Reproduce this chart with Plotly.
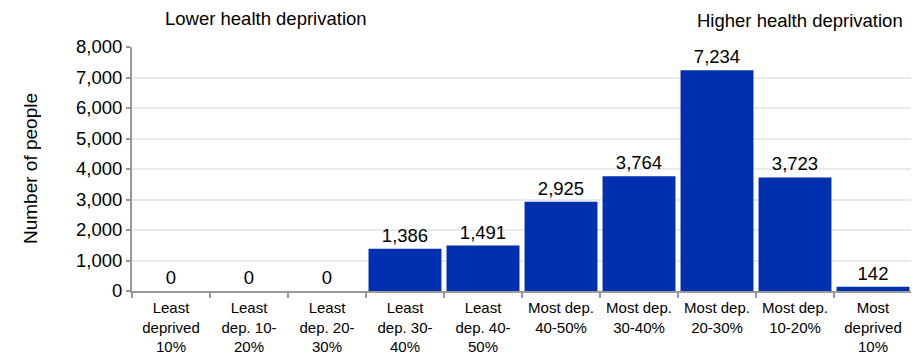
import plotly.graph_objects as go

categories = ["Least<br>deprived<br>10%", "Least<br>dep. 10-<br>20%", "Least<br>dep. 20-<br>30%",
              "Least<br>dep. 30-<br>40%", "Least<br>dep. 40-<br>50%", "Most dep.<br>40-50%",
              "Most dep.<br>30-40%", "Most dep.<br>20-30%", "Most dep.<br>10-20%", "Most<br>deprived<br>10%"]
values = [0, 0, 0, 1386, 1491, 2925, 3764, 7234, 3723, 142]
labels = [f"{v:,}" for v in values]
tick_vals = [0, 1000, 2000, 3000, 4000, 5000, 6000, 7000, 8000]
tick_text = [f"{v:,}" for v in tick_vals]

FONT = "Liberation Sans, Arial, sans-serif"

fig = go.Figure(go.Bar(
    x=categories, y=values, text=labels, textposition="outside",
    textfont=dict(size=18.5, color="#000000", family=FONT),
    marker=dict(color="#0030B0", line=dict(width=0)),
    cliponaxis=False,
))

fig.update_layout(
    width=911, height=347,
    margin=dict(l=124, r=7, t=39, b=64, autoexpand=False),
    paper_bgcolor="white", plot_bgcolor="white",
    bargap=0.065,
    showlegend=False,
    font=dict(family=FONT, color="#000000"),
    xaxis=dict(
        automargin=False, tickangle=0, ticklabelstandoff=2,
        showline=True, linecolor="#999999", linewidth=2,
        ticks="outside", tickson="boundaries", ticklen=5, tickcolor="#999999", tickwidth=2,
        tickfont=dict(size=15, family=FONT, color="#000000"),
        showgrid=False,
    ),
    yaxis=dict(
        automargin=False,
        range=[0, 8000], tickvals=tick_vals, ticktext=tick_text,
        showline=True, linecolor="#999999", linewidth=2,
        ticks="outside", ticklen=4, tickcolor="#999999", tickwidth=2,
        tickfont=dict(size=18.5, family=FONT, color="#000000"),
        showgrid=True, gridcolor="#EBEBEB", gridwidth=1.5,
        zeroline=False,
    ),
    annotations=[
        dict(text="Number of people", xref="paper", yref="paper", x=0, y=0.5,
             xanchor="center", yanchor="middle", xshift=-102, textangle=-90, showarrow=False,
             font=dict(size=19, family=FONT, color="#000000")),
        dict(text="Lower health deprivation", xref="paper", yref="paper", x=0, y=1.0,
             xanchor="left", yanchor="middle", xshift=31, yshift=29, showarrow=False,
             font=dict(size=18.5, family=FONT, color="#000000")),
        dict(text="Higher health deprivation", xref="paper", yref="paper", x=1.0, y=1.0,
             xanchor="right", yanchor="middle", xshift=-7, yshift=27, showarrow=False,
             font=dict(size=18.5, family=FONT, color="#000000")),
    ],
)

fig.write_html("out.html")
